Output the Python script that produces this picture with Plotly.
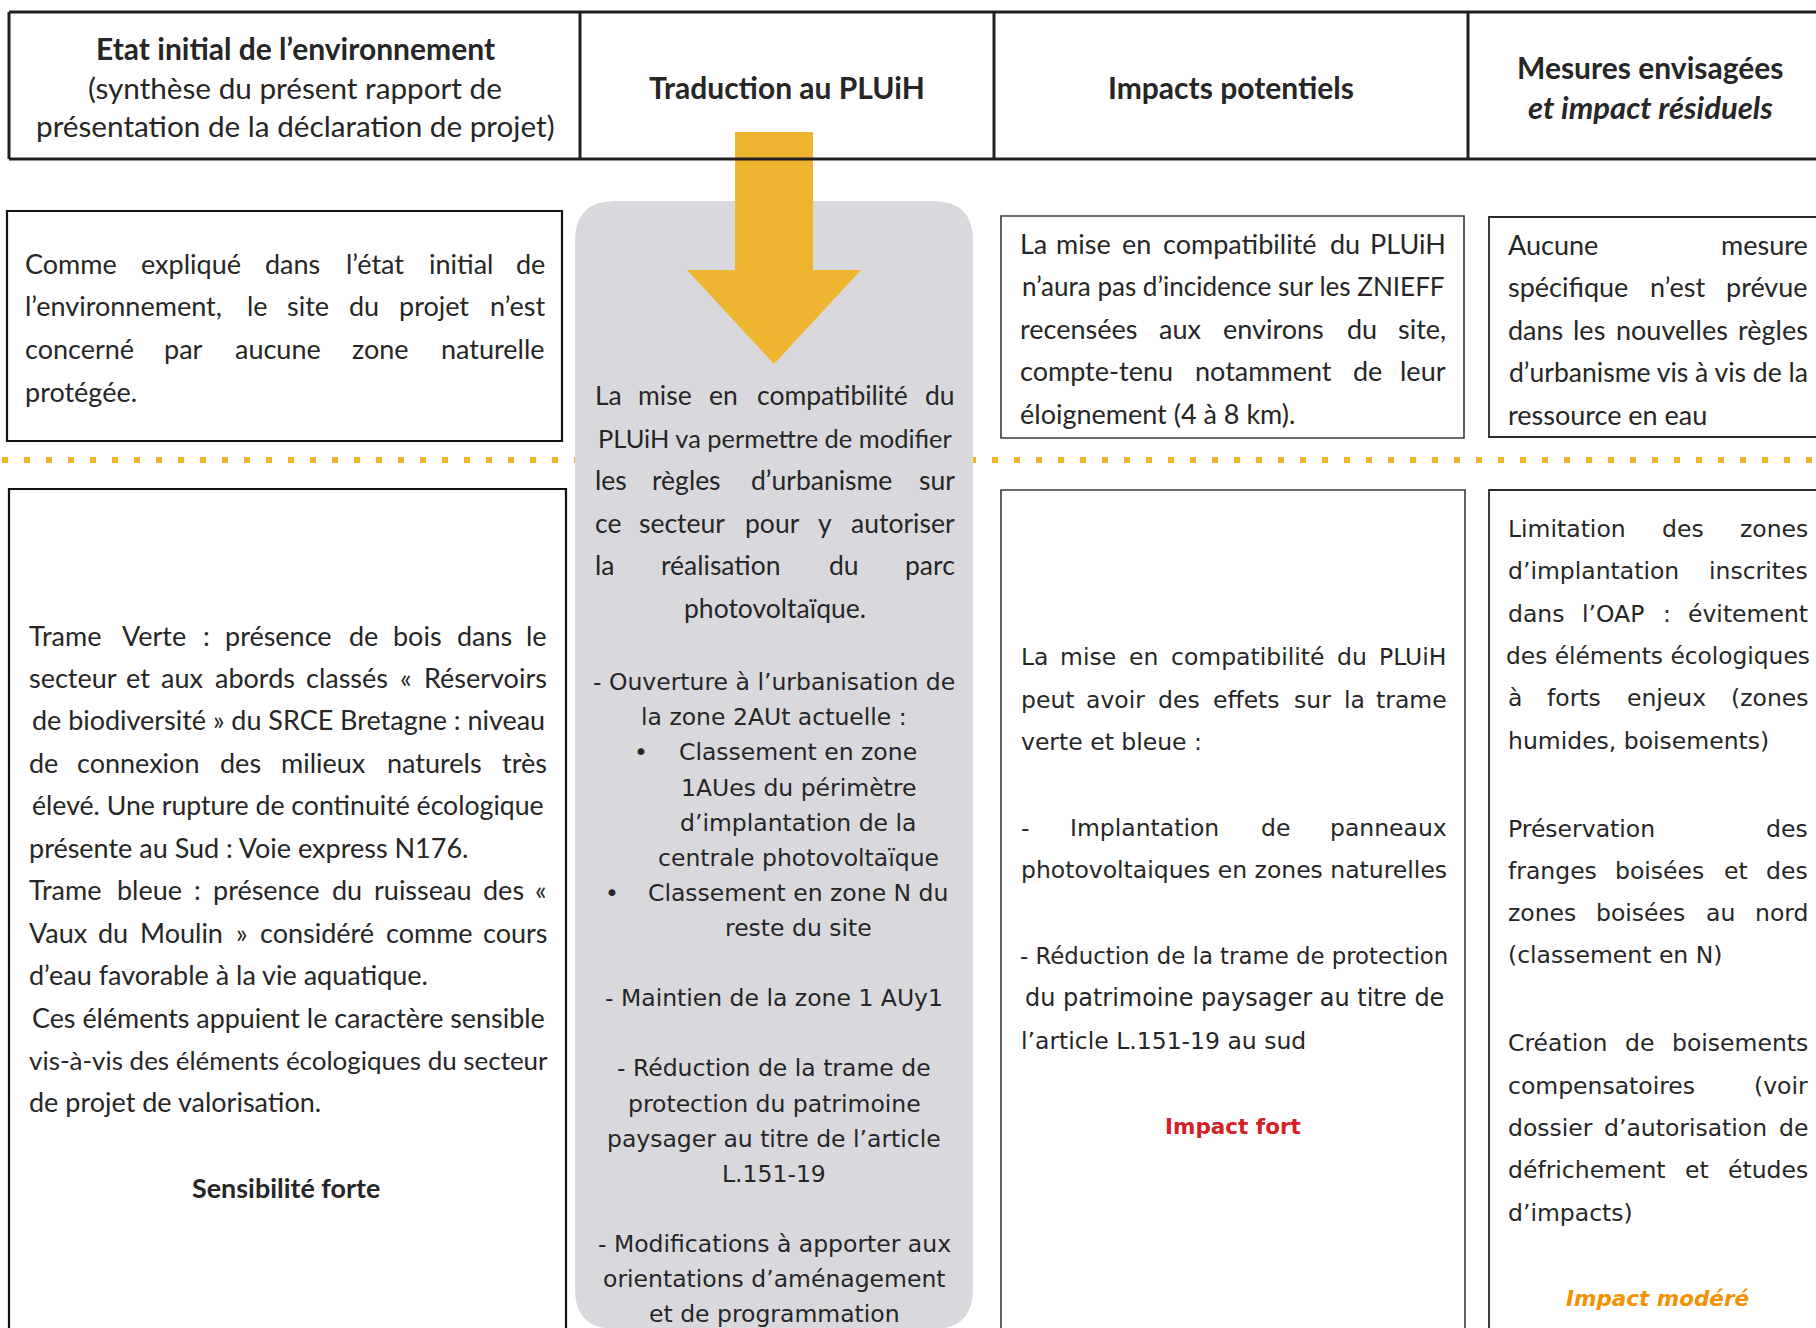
import unicodedata
import plotly.graph_objects as go

# ---------------- texts (data) ----------------
header_etat = ["Etat initial de l’environnement",
               "(synthèse du présent rapport de",
               "présentation de la déclaration de projet)"]
header_traduction = "Traduction au PLUiH"
header_impacts = "Impacts potentiels"
header_mesures = ["Mesures envisagées", "et impact résiduels"]

etat_zones_protegees = [[
    "Comme expliqué dans l’état initial de",
    "l’environnement, le site du projet n’est",
    "concerné par aucune zone naturelle",
    "protégée."]]
etat_trame = [
    ["Trame Verte : présence de bois dans le",
     "secteur et aux abords classés « Réservoirs",
     "de biodiversité » du SRCE Bretagne : niveau",
     "de connexion des milieux naturels très",
     "élevé. Une rupture de continuité écologique",
     "présente au Sud : Voie express N176."],
    ["Trame bleue : présence du ruisseau des «",
     "Vaux du Moulin » considéré comme cours",
     "d’eau favorable à la vie aquatique."],
    ["Ces éléments appuient le caractère sensible",
     "vis-à-vis des éléments écologiques du secteur",
     "de projet de valorisation."]]
etat_trame_niveau = "Sensibilité forte"

pluih_intro = [["La mise en compatibilité du",
                "PLUiH va permettre de modifier",
                "les règles d’urbanisme sur",
                "ce secteur pour y autoriser",
                "la réalisation du parc",
                "photovoltaïque."]]
pluih_ouverture = ["- Ouverture à l’urbanisation de", "la zone 2AUt actuelle :"]
pluih_puces = [["Classement en zone", "1AUes du périmètre",
                "d’implantation de la", "centrale photovoltaïque"],
               ["Classement en zone N du", "reste du site"]]
pluih_autres = [["- Maintien de la zone 1 AUy1"],
                ["- Réduction de la trame de", "protection du patrimoine",
                 "paysager au titre de l’article", "L.151-19"],
                ["- Modifications à apporter aux", "orientations d’aménagement",
                 "et de programmation"]]

impact_znieff = [["La mise en compatibilité du PLUiH",
                  "n’aura pas d’incidence sur les ZNIEFF",
                  "recensées aux environs du site,",
                  "compte-tenu notamment de leur",
                  "éloignement (4 à 8 km)."]]
impact_trame = [["La mise en compatibilité du PLUiH",
                 "peut avoir des effets sur la trame",
                 "verte et bleue :"],
                ["- Implantation de panneaux",
                 "photovoltaiques en zones naturelles"],
                ["- Réduction de la trame de protection",
                 "du patrimoine paysager au titre de",
                 "l’article L.151-19 au sud"]]
impact_trame_niveau = "Impact fort"

mesure_eau = [["Aucune mesure",
               "spécifique n’est prévue",
               "dans les nouvelles règles",
               "d’urbanisme vis à vis de la",
               "ressource en eau"]]
mesure_trame = [["Limitation des zones",
                 "d’implantation inscrites",
                 "dans l’OAP : évitement",
                 "des éléments écologiques",
                 "à forts enjeux (zones",
                 "humides, boisements)"],
                ["Préservation des",
                 "franges boisées et des",
                 "zones boisées au nord",
                 "(classement en N)"],
                ["Création de boisements",
                 "compensatoires (voir",
                 "dossier d’autorisation de",
                 "défrichement et études",
                 "d’impacts)"]]
mesure_trame_niveau = "Impact modéré"

# ---------------- styles ----------------
W, H = 1816, 1328
TXT = "#262626"
GOLD = "#EEB530"
DOT = "#F2B531"
GREY = "#D9D9DD"
BODY = "Lato"
WIDE = "DejaVu Sans"

# Calibri-like advance widths (per 1000 em), used to estimate Lato widths
CAL = dict(a=479, b=525, c=423, d=525, e=498, f=305, g=471, h=525, i=229, j=239, k=455,
           l=229, m=799, n=525, o=527, p=525, q=525, r=349, s=391, t=335, u=525, v=452,
           w=715, x=433, y=453, z=395,
           A=579, B=544, C=533, D=615, E=488, F=459, G=631, H=623, I=252, J=319, K=520,
           L=420, M=855, N=646, O=662, P=517, Q=673, R=543, S=459, T=487, U=642, V=567,
           W=890, X=519, Y=487, Z=468)
CAL_P = {" ": 226, ".": 252, ",": 250, ":": 268, "(": 303, ")": 303, "-": 340, "’": 250,
         "«": 498, "»": 498, "•": 498}
DV = dict(a=.613, b=.635, c=.55, d=.635, e=.615, f=.352, g=.635, h=.634, i=.278,
          j=.278, k=.579, l=.278, m=.974, n=.634, o=.612, p=.635, q=.635, r=.411,
          s=.521, t=.392, u=.634, v=.592, w=.818, x=.592, y=.592, z=.525,
          A=.684, B=.686, C=.698, D=.77, E=.632, F=.575, G=.775, H=.752, I=.295,
          L=.557, M=.863, N=.748, O=.787, P=.603, R=.695, S=.635, U=.732, Z=.685)
DV_P = {" ": .318, ".": .318, ",": .318, ":": .337, "(": .39, ")": .39, "-": .361,
        "’": .318, "«": .557, "»": .557, "•": .59}


def est_width(word, font, size):
    tot = 0.0
    for ch in word:
        b = unicodedata.normalize("NFD", ch)[0]
        if font == WIDE:
            if b in DV_P:
                tot += DV_P[b]
            elif b.isdigit():
                tot += .636
            else:
                tot += DV.get(b, .68 if b.isupper() else .6)
        else:
            if b in CAL_P:
                v = CAL_P[b]
            elif b.isdigit():
                v = 540
            elif b.isupper():
                v = CAL.get(b, 600) * 1.18
            else:
                v = CAL.get(b, 550) * 1.07
            tot += v / 1000 * 1.02
    return tot * size


ann = []
shapes = []


def text(x, y, s, font=BODY, size=27, anchor="left", color=TXT):
    ann.append(dict(x=x, y=y, xref="x", yref="y", text=s, showarrow=False,
                    xanchor=anchor, yanchor="middle",
                    font=dict(family=font, size=size, color=color)))


def justify(line, x0, x1, y, font, size):
    words = line.split()
    if len(words) == 1:
        text(x0, y, line, font, size, "left")
        return
    ws = [est_width(w, font, size) for w in words]
    space = est_width(" ", font, size)
    gap = (x1 - x0 - sum(ws)) / (len(words) - 1)
    if gap < 1.5 * space:
        # tight line: keep natural word spacing, fit it to the column width
        need = sum(ws) + (len(words) - 1) * space
        k = max(0.94, min(1.02, (x1 - x0) / need))
        text((x0 + x1) / 2, y, line, font, size * k, "center")
        return
    x = x0
    for i, w in enumerate(words):
        if i == 0:
            text(x0, y, w, font, size, "left")
        elif i == len(words) - 1:
            text(x1, y, w, font, size, "right")
        else:
            text(x + ws[i] / 2, y, w, font, size, "center")
        x += ws[i] + gap


def paragraphs(paras, x0, x1, y0, step, gap, font, size, last="left"):
    y = y0
    for pi, para in enumerate(paras):
        for li, line in enumerate(para):
            if li < len(para) - 1:
                justify(line, x0, x1, y, font, size)
            elif last == "left":
                text(x0, y, line, font, size, "left")
            else:
                text((x0 + x1) / 2, y, line, font, size, "center")
            if li < len(para) - 1:
                y += step
        if pi < len(paras) - 1:
            y += gap
    return y


# ---------------- background shapes ----------------
shapes.append(dict(type="line", xref="x", yref="y", x0=2, x1=W, y0=460, y1=460,
                   line=dict(color=DOT, width=6, dash="6px,16px"), layer="below"))
gx0, gx1, gy0, gy1, r = 575, 973, 201, 1329, 40
shapes.append(dict(type="path", xref="x", yref="y", layer="below",
                   path=(f"M{gx0+r},{gy0} L{gx1-r},{gy0} Q{gx1},{gy0} {gx1},{gy0+r} "
                         f"L{gx1},{gy1-r} Q{gx1},{gy1} {gx1-r},{gy1} L{gx0+r},{gy1} "
                         f"Q{gx0},{gy1} {gx0},{gy1-r} L{gx0},{gy0+r} Q{gx0},{gy0} {gx0+r},{gy0} Z"),
                   fillcolor=GREY, line=dict(width=0)))
shapes.append(dict(type="path", xref="x", yref="y", layer="below",
                   path="M735,132 L813,132 L813,270 L861,270 L774,364 L687,270 L735,270 Z",
                   fillcolor=GOLD, line=dict(width=0)))
hc = "#231F20"
for (x0, y0, x1, y1) in [(9, 12, W + 5, 12), (9, 159, W + 5, 159), (9, 12, 9, 159),
                         (580, 12, 580, 159), (994, 12, 994, 159), (1468, 12, 1468, 159)]:
    shapes.append(dict(type="line", xref="x", yref="y", x0=x0, y0=y0, x1=x1, y1=y1,
                       line=dict(color=hc, width=3)))
for (x0, y0, x1, y1, c, w) in [(7, 211, 562, 441, "#111111", 2.2),
                               (9, 489, 566, 1345, "#111111", 2.2),
                               (1001, 216, 1464, 438, "#3a3a3a", 1.6),
                               (1489, 217, 1830, 437, "#2a2a2a", 1.8),
                               (1001, 490, 1465, 1345, "#3a3a3a", 1.6),
                               (1489, 490, 1830, 1345, "#2a2a2a", 1.8)]:
    shapes.append(dict(type="rect", xref="x", yref="y", x0=x0, y0=y0, x1=x1, y1=y1,
                       line=dict(color=c, width=w), fillcolor="rgba(0,0,0,0)"))

# ---------------- header texts ----------------
HR, HB, HBI = 29.7, 30, 31
text(295, 48, "<b>" + header_etat[0] + "</b>", BODY, HB, "center")
text(295, 87, header_etat[1], BODY, HR, "center")
text(295, 125, header_etat[2], BODY, HR, "center")
text(787, 87, "<b>" + header_traduction + "</b>", BODY, HB, "center")
text(1231, 87, "<b>" + header_impacts + "</b>", BODY, HB, "center")
text(1650, 67, "<b>" + header_mesures[0] + "</b>", BODY, HB, "center")
text(1650, 107, "<b><i>" + header_mesures[1] + "</i></b>", BODY, HBI, "center")

# ---------------- column 1 ----------------
BS = 27.0
paragraphs(etat_zones_protegees, 23, 547, 263, 42.7, 42.7, BODY, BS)
yl = paragraphs(etat_trame, 27, 549, 635, 42.45, 42.45, BODY, BS)
text(286, yl + 86, "<b>" + etat_trame_niveau + "</b>", BODY, 26.9, "center")

# ---------------- column 2 ----------------
paragraphs(pluih_intro, 593, 957, 395, 42.6, 42.6, BODY, 26.5, last="center")
LS, LST = 23.5, 35.2
y = 682
for line in pluih_ouverture:
    text(774, y, line, WIDE, LS, "center")
    y += LST
for item in pluih_puces:
    w0 = est_width(item[0], WIDE, LS) * 0.94
    text(798 - w0 / 2 - 45, y, "•", WIDE, LS, "center")
    for line in item:
        text(798, y, line, WIDE, LS, "center")
        y += LST
y -= LST
for para in pluih_autres:
    y += 70
    for li, line in enumerate(para):
        text(774, y, line, WIDE, LS, "center")
        if li < len(para) - 1:
            y += LST

# ---------------- column 3 ----------------
paragraphs(impact_znieff, 1018, 1448, 243, 42.5, 42.5, BODY, BS)
yl = paragraphs(impact_trame, 1019, 1449, 657, 42.5, 85.5, WIDE, 23.5)
text(1233, yl + 86, "<b>" + impact_trame_niveau + "</b>", WIDE, 21.5, "center", "#D42027")

# ---------------- column 4 ----------------
paragraphs(mesure_eau, 1506, 1810, 244, 42.7, 42.7, BODY, BS)
yl = paragraphs(mesure_trame, 1506, 1810, 529, 42.3, 88, WIDE, 23.5)
text(1657, yl + 86, "<b><i>" + mesure_trame_niveau + "</i></b>", WIDE, 21.5, "center", "#F39200")

fig = go.Figure()
fig.update_layout(
    width=W, height=H, margin=dict(l=0, r=0, t=0, b=0),
    paper_bgcolor="white", plot_bgcolor="white",
    xaxis=dict(range=[0, W], visible=False, fixedrange=True),
    yaxis=dict(range=[H, 0], visible=False, fixedrange=True),
    annotations=ann, shapes=shapes, showlegend=False,
)
fig.write_html("out.html", config={"displayModeBar": False},
               post_script="document.body.style.margin='0';document.body.style.overflow='hidden';")
